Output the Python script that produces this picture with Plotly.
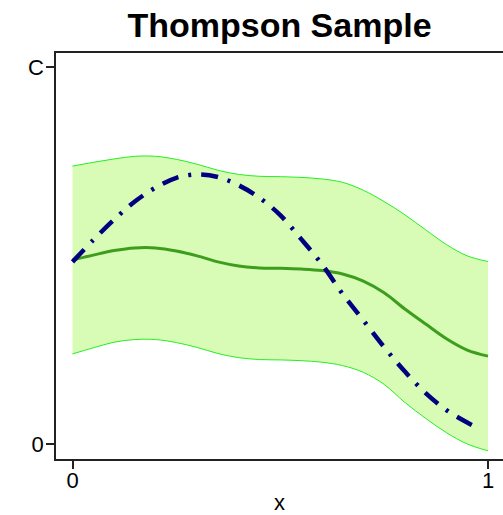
import plotly.graph_objects as go

# ---- data (C is plotted as 1) ----
x_grid = [0.0, 0.05, 0.1, 0.15, 0.2, 0.25, 0.3, 0.35, 0.4, 0.45, 0.5,
          0.55, 0.6, 0.65, 0.7, 0.75, 0.8, 0.85, 0.9, 0.95, 1.0]
mean = [0.488, 0.501, 0.513, 0.520, 0.520, 0.512, 0.499, 0.483, 0.472, 0.467, 0.466,
        0.464, 0.460, 0.451, 0.432, 0.401, 0.358, 0.318, 0.279, 0.249, 0.233]
upper = [0.737, 0.747, 0.756, 0.763, 0.763, 0.755, 0.742, 0.726, 0.715, 0.710, 0.709,
         0.707, 0.703, 0.694, 0.673, 0.643, 0.608, 0.568, 0.529, 0.499, 0.484]
lower = [0.239, 0.255, 0.270, 0.277, 0.277, 0.269, 0.256, 0.240, 0.229, 0.224, 0.223,
         0.221, 0.217, 0.208, 0.190, 0.158, 0.110, 0.068, 0.030, 0.000, -0.018]
sample_x = [0.0, 0.05, 0.1, 0.15, 0.2, 0.25, 0.3, 0.35, 0.4, 0.45, 0.5,
            0.55, 0.6, 0.65, 0.7, 0.75, 0.8, 0.85, 0.9, 0.95, 0.975]
sample_y = [0.483, 0.541, 0.595, 0.643, 0.680, 0.706, 0.715, 0.708, 0.686, 0.653, 0.607,
            0.544, 0.477, 0.398, 0.328, 0.257, 0.192, 0.135, 0.090, 0.057, 0.043]
x_ticks = [0, 1]
x_tick_text = ["0", "1"]
y_ticks = [0, 1]
y_tick_text = ["0", "C"]

FONT = "Liberation Sans, Arial, Helvetica, sans-serif"

fig = go.Figure()
fig.add_trace(go.Scatter(x=x_grid, y=lower, mode="lines", line=dict(color="#22f022", width=1, shape="spline"),
                         showlegend=False, hoverinfo="skip"))
fig.add_trace(go.Scatter(x=x_grid, y=upper, mode="lines", line=dict(color="#22f022", width=1, shape="spline"),
                         fill="tonexty", fillcolor="rgb(216,252,182)", showlegend=False, hoverinfo="skip"))
fig.add_trace(go.Scatter(x=x_grid, y=mean, mode="lines", line=dict(color="#3c9e1c", width=3, shape="spline"),
                         showlegend=False))
fig.add_trace(go.Scatter(x=sample_x, y=sample_y, mode="lines",
                         line=dict(color="#000080", width=4.5, shape="spline", dash="17px,10px,3px,10px"),
                         showlegend=False))

fig.update_layout(
    width=503, height=515,
    margin=dict(l=56, r=0, t=53, b=56, autoexpand=False),
    paper_bgcolor="white", plot_bgcolor="white",
    font=dict(family=FONT, size=22, color="black"),
    title=dict(text="<b>Thompson Sample</b>", x=0.5, xref="paper", xanchor="center",
               y=1 - 25 / 515, yref="container", yanchor="middle",
               font=dict(family=FONT, size=34, color="black")),
    xaxis=dict(range=[-0.0397, 1.0361], tickvals=x_ticks, ticktext=x_tick_text,
               showgrid=False, zeroline=False, showline=True, mirror=True, automargin=False,
               linecolor="#222222", linewidth=1.5, ticks="outside", ticklen=8,
               tickcolor="#222222", tickwidth=1.5, tickfont=dict(family=FONT, size=22),
               ticklabelstandoff=-7,
               title=dict(text="x", standoff=17, font=dict(family=FONT, size=22))),
    yaxis=dict(range=[-0.0398, 1.037], tickvals=y_ticks, ticktext=y_tick_text,
               showgrid=False, zeroline=False, showline=True, mirror=False, automargin=False,
               linecolor="#222222", linewidth=1.5, ticks="outside", ticklen=8,
               tickcolor="#222222", tickwidth=1.5, tickfont=dict(family=FONT, size=22),
               ticklabelstandoff=-2),
)

fig.write_html("out.html", config={"displayModeBar": False},
               post_script="document.body.style.margin='0';document.body.style.overflow='hidden';")
